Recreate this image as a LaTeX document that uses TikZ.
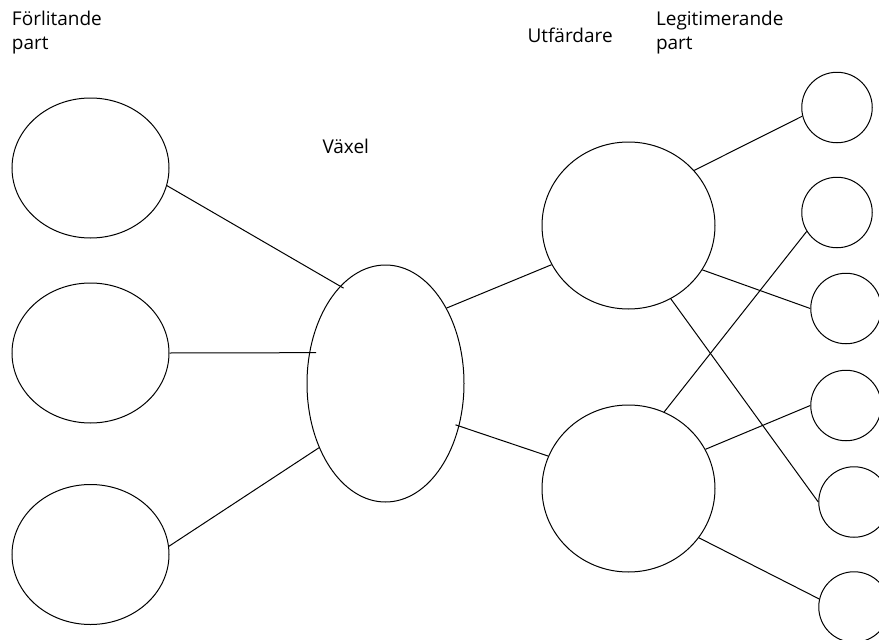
\documentclass[tikz,border=0pt]{standalone}
\usepackage{fontspec}
\setmainfont{Open Sans}
\usetikzlibrary{shapes.geometric}
\begin{document}
\begin{tikzpicture}[x=1pt,y=-1pt,line width=1pt,
  bigell/.style={draw,ellipse,inner sep=0pt,minimum width=157pt,minimum height=140pt},
  midell/.style={draw,ellipse,inner sep=0pt,minimum width=157pt,minimum height=237pt},
  issuer/.style={draw,ellipse,inner sep=0pt,minimum width=173pt,minimum height=167pt},
  rp/.style={draw,circle,inner sep=0pt,minimum size=70.5pt},
  lbl/.style={inner sep=0pt,anchor=base west,align=left,font=\fontsize{19}{24.5}\selectfont},
  conn/.style={draw,line width=1pt}]
\useasboundingbox (0,0) rectangle (879,640);
\clip (0,0) rectangle (879,640);
\fill[white] (0,0) rectangle (879,640);
% labels (base anchor = baseline of the last line)
\node[lbl] (tRel) at (11.5,49.5) {Förlitande\\part};
\node[lbl] (tIss) at (527,42) {Utfärdare};
\node[lbl] (tRp) at (655.5,49.5) {Legitimerande\\part};
\node[lbl] (tHub) at (322,153) {Växel};
% relying parties
\node[bigell] (e1) at (90.5,168) {};
\node[bigell] (e2) at (90.5,353) {};
\node[bigell] (e3) at (90.5,554.5) {};
% hub
\node[midell] (m) at (385.5,383.5) {};
% issuers
\node[issuer] (u) at (628.5,225.5) {};
\node[issuer] (w) at (628.5,488.5) {};
% verifying parties
\node[rp] (s1) at (837,107.5) {};
\node[rp] (s2) at (837,212.5) {};
\node[rp] (s3) at (846,308.5) {};
\node[rp] (s4) at (846,405.5) {};
\node[rp] (s5) at (854,502) {};
\node[rp] (s6) at (854,607) {};
% connectors
\draw[conn,shorten >=-4pt] (e1.-13) -- (m.115);
\draw[conn,shorten >=-7pt] (e2.east) -- (m.158);
\draw[conn] (e3.6) -- (m.224);
\draw[conn] (m.51) -- (u.207);
\draw[conn,shorten <=-4pt] (m.-30) -- (w.158);
\draw[conn] (u.40) -- (s1.194);
\draw[conn] (u.-31) -- (s3.180);
\draw[conn] (u.-60) -- (s5.180);
\draw[conn] (w.65) -- (s2.212);
\draw[conn] (w.27) -- (s4.180);
\draw[conn] (w.-35) -- (s6.167);
\end{tikzpicture}
\end{document}
